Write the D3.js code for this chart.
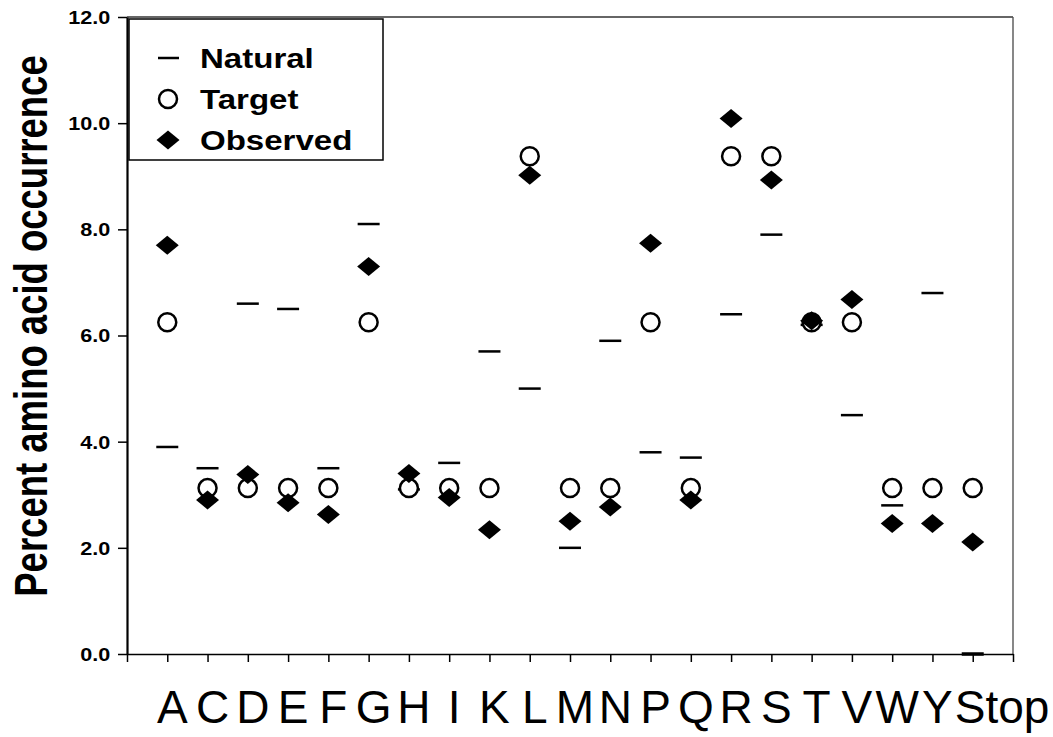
<!DOCTYPE html>
<html>
<head>
<meta charset="utf-8">
<script src="https://cdn.jsdelivr.net/npm/d3@7"></script>
<style>
  html, body { margin: 0; padding: 0; background: #fff; }
  svg { display: block; font-family: "Liberation Sans", Arial, sans-serif; }
</style>
</head>
<body>
<div id="chart"><svg></svg></div>
<script>
// amino acids along x
const categories = ["A","C","D","E","F","G","H","I","K","L","M","N","P","Q","R","S","T","V","W","Y","Stop"];
// percent occurrence
const natural  = [3.9, 3.5, 6.6, 6.5, 3.5, 8.1, 3.1, 3.6, 5.7, 5.0, 2.0, 5.9, 3.8, 3.7, 6.4, 7.9, 6.2, 4.5, 2.8, 6.8, 0.0];
const target   = [6.25, 3.125, 3.125, 3.125, 3.125, 6.25, 3.125, 3.125, 3.125, 9.375, 3.125, 3.125, 6.25, 3.125, 9.375, 9.375, 6.25, 6.25, 3.125, 3.125, 3.125];
const observed = [7.7, 2.9, 3.38, 2.85, 2.63, 7.3, 3.4, 2.95, 2.34, 9.02, 2.5, 2.77, 7.74, 2.9, 10.09, 8.93, 6.28, 6.68, 2.46, 2.46, 2.11];
const yTicks = [0, 2, 4, 6, 8, 10, 12];
const legendItems = ["Natural", "Target", "Observed"];

const width = 1053;
const height = 737;

const svg = d3.select('#chart').select('svg')
    .attr('width', width)
    .attr('height', height)
    .attr('viewBox', `0 0 ${width} ${height}`);

// x: one slot per amino acid, ticks between them
const x = d3.scaleLinear()
    .domain([0, categories.length + 1])
    .range([127, 1013]);

const y = d3.scaleLinear()
    .domain([0, 12])
    .range([654, 17]);

const rows = categories.map((c, i) => ({
    name: c, pos: i + 1,
    natural: natural[i], target: target[i], observed: observed[i]
}));

// frame (top + right)
svg.append('line')
    .attr('x1', x(0)).attr('x2', x.range()[1])
    .attr('y1', y(12)).attr('y2', y(12))
    .attr('stroke', '#333').attr('stroke-width', 1.4);
svg.append('line')
    .attr('x1', x.range()[1]).attr('x2', x.range()[1])
    .attr('y1', y(12)).attr('y2', y(0))
    .attr('stroke', '#555').attr('stroke-width', 1.4);

// y axis
const yAxis = svg.append('g')
    .attr('transform', `translate(${x(0)},0)`)
    .call(d3.axisLeft(y).tickValues(yTicks).tickFormat(d3.format('.1f')).tickSize(9).tickSizeOuter(0));
yAxis.select('.domain').attr('stroke', '#000').attr('stroke-width', 2.2);
yAxis.selectAll('.tick line').attr('stroke', '#000').attr('stroke-width', 1.5);
yAxis.selectAll('.tick text')
    .attr('font-size', 18)
    .attr('font-weight', 'bold')
    .attr('font-family', '"Liberation Sans", Arial, sans-serif')
    .attr('fill', '#000')
    .attr('x', -14)
    .attr('dy', '0.36em')
    .attr('transform', 'scale(1.2,1)');

// x axis (ticks only)
const xAxis = svg.append('g')
    .attr('transform', `translate(0,${y(0)})`)
    .call(d3.axisBottom(x).tickValues(d3.range(0, categories.length + 2)).tickFormat('').tickSize(8).tickSizeOuter(0));
xAxis.select('.domain').attr('stroke', '#000').attr('stroke-width', 1.6);
xAxis.selectAll('.tick line').attr('stroke', '#000').attr('stroke-width', 1.5);

// category labels
svg.append('g').selectAll('text')
    .data(rows)
    .join('text')
    .attr('x', d => d.name === 'Stop' ? x(d.pos) - 18 : x(d.pos) + 5)
    .attr('y', 723)
    .attr('text-anchor', d => d.name === 'Stop' ? 'start' : 'middle')
    .attr('font-size', 46)
    .attr('fill', '#000')
    .text(d => d.name);

// y title
svg.append('text')
    .attr('transform', 'translate(47,326) scale(1.28,1) rotate(-90)')
    .attr('text-anchor', 'middle')
    .attr('font-size', 36.5)
    .attr('font-weight', 'bold')
    .text('Percent amino acid occurrence');

const diamond = 'M0,-9.5L11.5,0L0,9.5L-11.5,0Z';

const plot = svg.append('g');

// natural: short dashes
plot.selectAll('line.natural')
    .data(rows)
    .join('line')
    .attr('class', 'natural')
    .attr('x1', d => x(d.pos) - 11)
    .attr('x2', d => x(d.pos) + 11)
    .attr('y1', d => y(d.natural))
    .attr('y2', d => y(d.natural))
    .attr('stroke', '#000')
    .attr('stroke-width', d => d.natural === 0 ? 3.5 : 2.5);

// target: open circles
plot.selectAll('circle.target')
    .data(rows)
    .join('circle')
    .attr('class', 'target')
    .attr('cx', d => x(d.pos))
    .attr('cy', d => y(d.target))
    .attr('r', 9)
    .attr('fill', '#fff')
    .attr('stroke', '#000')
    .attr('stroke-width', 2.5);

// observed: filled diamonds
plot.selectAll('path.observed')
    .data(rows)
    .join('path')
    .attr('class', 'observed')
    .attr('transform', d => `translate(${x(d.pos)},${y(d.observed)})`)
    .attr('d', diamond)
    .attr('fill', '#000');

// legend
const legend = svg.append('g');
legend.append('rect')
    .attr('x', x(0) + 2).attr('y', y(12) + 2)
    .attr('width', 254).attr('height', 141)
    .attr('fill', '#fff')
    .attr('stroke', '#000').attr('stroke-width', 1.5);

const lg = legend.selectAll('g.item')
    .data(legendItems)
    .join('g')
    .attr('class', 'item')
    .attr('transform', (d, i) => `translate(168,${58 + i * 41})`);

lg.filter(d => d === 'Natural').append('line')
    .attr('x1', -10).attr('x2', 11).attr('y1', 0).attr('y2', 0)
    .attr('stroke', '#000').attr('stroke-width', 2.5);
lg.filter(d => d === 'Target').append('circle')
    .attr('r', 9).attr('fill', '#fff').attr('stroke', '#000').attr('stroke-width', 2.5);
lg.filter(d => d === 'Observed').append('path')
    .attr('d', diamond).attr('fill', '#000');

lg.append('text')
    .attr('transform', 'translate(32,0) scale(1.18,1)')
    .attr('y', 10)
    .attr('font-size', 28)
    .attr('font-weight', 'bold')
    .text(d => d);
</script>
</body>
</html>
